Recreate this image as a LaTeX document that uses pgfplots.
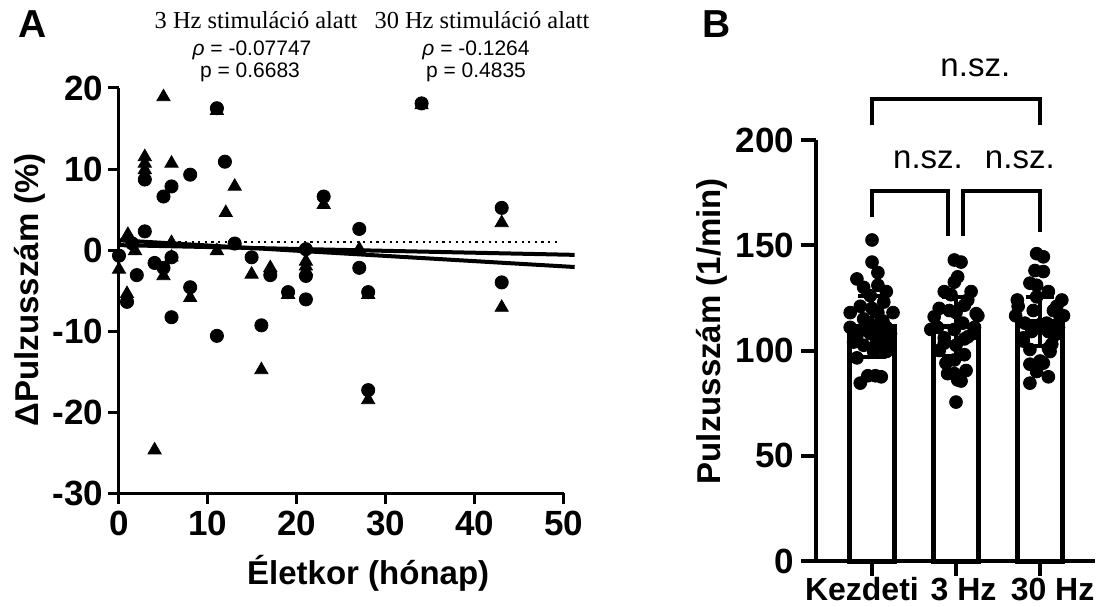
\documentclass[border=0pt]{standalone}
\usepackage{pgfplots}
\pgfplotsset{compat=1.18}
\usepackage{fontspec}
\setmainfont{Liberation Sans}
\newfontfamily\seriffont{Liberation Serif}

\begin{document}
\begin{tikzpicture}[x=1pt,y=1pt]
\path[use as bounding box] (0,0) rectangle (549,303);

% ---------------- Panel A ----------------
\begin{axis}[
  at={(59.5pt,56.5pt)}, anchor=south west,
  scale only axis, width=222.5pt, height=202.5pt,
  xmin=0, xmax=50, ymin=-30, ymax=20,
  clip=false,
  axis lines*=left,
  axis line style={line width=1.5pt, -},
  tick align=outside, tick pos=left,
  major tick length=5.5pt,
  tick style={line width=1.5pt, black},
  xtick={0,10,20,30,40,50}, xticklabels={0,10,20,30,40,50},
  ytick={-30,-20,-10,0,10,20}, yticklabels={-30,-20,-10,0,10,20},
  ticklabel style={font=\fontsize{17.5}{20}\selectfont\bfseries},
  yticklabel style={xshift=1pt},
  xlabel={Életkor (hónap)},
  ylabel={ΔPulzusszám (\%)},
  label style={font=\fontsize{16.5}{19}\selectfont\bfseries},
  xlabel style={at={(axis description cs:0.56,-0.198)}, anchor=center},
  ylabel style={at={(axis description cs:-0.2,0.502)}, anchor=center},
]
% reference line
\addplot[black, line width=1.1pt, dash pattern=on 1.1pt off 2.2pt] coordinates {(0,1) (49.5,1)};
% regression lines
\addplot[black, line width=2pt] coordinates {(0,1.2) (51.2,-2.1)};
\addplot[black, line width=2pt] coordinates {(0,0.6) (51.2,-0.6)};
% 30 Hz (triangles)
\addplot[only marks, mark=triangle*, mark size=3.8pt, black] coordinates {
(0,-2.4) (0.9,-5.4) (1.0,1.9) (1.8,-0.1) (2.9,11.5) (2.9,10.7) (2.9,9.9)
(4.0,-24.7) (5.0,18.9) (5.0,-3.2) (5.9,10.7) (5.9,0.9) (5.9,-0.9) (8.0,-5.9)
(11.0,17.2) (11.0,-0.1) (12.0,4.6) (13.0,7.85) (14.9,-3.0) (16.0,-14.8)
(17.0,-2.2) (19.0,-5.5) (21.0,-1.4) (21.0,-2.6) (21.0,-2.0) (23.0,5.6)
(27.0,0.1) (28.0,-5.5) (28.0,-18.5) (34.0,17.9) (43.0,3.35) (43.0,-7.1)
};
% 3 Hz (circles)
\addplot[only marks, mark=*, mark size=3.3pt, black] coordinates {
(0,-0.7) (0.9,-6.4) (1.5,0.8) (2.0,-3.1) (2.9,8.7) (2.9,2.3) (4.0,-1.6)
(5.0,6.6) (5.0,-2.2) (5.9,7.85) (5.9,-0.9) (5.9,-8.3) (8.0,9.3) (8.0,-4.6)
(11.0,17.5) (11.0,-10.6) (11.9,10.9) (13.0,0.8) (14.9,-0.9) (16.0,-9.3)
(17.0,-3.1) (19.0,-5.2) (21.0,0.1) (21.0,-3.2) (21.0,-6.1) (23.0,6.6)
(27.0,2.6) (27.0,-2.2) (28.0,-5.2) (28.0,-17.3) (34.0,18.1) (43.0,5.2) (43.0,-4.0)
};
\end{axis}

% ---------------- Panel B ----------------
\begin{axis}[
  at={(408pt,22.5pt)}, anchor=south west,
  scale only axis, width=139.5pt, height=210.5pt,
  xmin=-0.667, xmax=2.655, ymin=0, ymax=200,
  clip=false,
  axis lines*=left,
  axis line style={line width=2pt, -},
  tick align=outside, tick pos=left,
  major tick length=7.5pt,
  tick style={line width=2pt, black},
  xtick={0,1,2}, xticklabels={},
  ytick={0,50,100,150,200}, yticklabels={0,50,100,150,200},
  yticklabel style={font=\fontsize{17.5}{20}\selectfont\bfseries},
  ylabel={Pulzusszám (1/min)},
  ylabel style={at={(axis description cs:-0.373,0.546)}, anchor=center, font=\fontsize{16.5}{19}\selectfont\bfseries},
]
\addplot[ybar, bar width=22.5pt, fill=white, draw=black, line width=2.5pt] coordinates {(0,111.3) (1,111.3) (2,113.7)};
% Kezdeti points
\addplot[only marks, mark=*, mark size=3.2pt, black] coordinates {
(0.00,152.5) (0.00,142) (-0.18,134) (0.07,137) (-0.10,130) (0.17,128) (0.07,131)
(-0.02,126) (-0.26,118) (0.25,118) (0.00,120) (0.07,118) (-0.10,115) (0.13,114)
(-0.26,111) (0.17,111) (0.02,112) (-0.18,107) (-0.02,108) (0.07,106) (0.20,104)
(-0.22,104) (0.17,99.5) (-0.18,96.5) (0.02,99.5) (-0.10,102.5) (0.10,102)
(-0.05,88) (0.11,87.5) (-0.14,84.5) (0.04,88) (-0.08,110) (0.10,109) (0.22,108)
(-0.14,121) (0.14,123)
};
% 3 Hz points
\addplot[only marks, mark=*, mark size=3.2pt, black] coordinates {
(0.98,143) (1.06,142) (1.02,135) (0.98,132.5) (0.86,128) (1.18,128) (0.94,126.5)
(0.80,120) (0.92,119) (1.10,121.5) (1.26,116.5) (1.00,118) (1.14,124) (0.78,111)
(1.22,111) (0.98,110) (0.70,110) (1.08,113) (0.86,106) (1.14,106.5) (1.00,102.5)
(0.86,103.5) (1.10,105.5) (0.98,95.5) (0.88,94) (0.98,89) (1.12,90.5) (0.90,89)
(1.06,85.5) (1.02,86) (1.00,75.5) (1.24,117.5) (0.74,116) (1.20,108) (0.80,100) (1.10,98)
};
% 30 Hz points
\addplot[only marks, mark=*, mark size=3.2pt, black] coordinates {
(1.96,146) (2.04,144.5) (1.94,138) (2.04,137.5) (1.88,132) (1.96,131) (2.10,128)
(1.73,124) (2.26,124) (1.96,125.5) (1.71,116.5) (2.28,116.5) (1.92,119) (2.16,119)
(2.24,116) (1.80,106) (2.18,107.5) (1.96,111) (2.08,113) (1.82,113) (2.22,111)
(1.88,100.5) (2.12,99.5) (1.80,104.5) (2.10,101) (1.88,93.5) (2.04,94) (2.00,95)
(2.10,87.5) (1.88,84.5) (1.96,90) (2.10,109) (1.90,109) (2.14,103) (1.74,121) (2.20,121)
};
% error bars (mean +/- SD)
\addplot[only marks, mark=none, black,
  error bars/.cd, y dir=both, y explicit,
  error bar style={line width=2pt, black},
  error mark options={rotate=90, mark size=7pt, line width=2pt, black}]
  coordinates {(0,111.3) +- (0,14.5) (1,111.3) +- (0,14) (2,113.7) +- (0,11.5)};
% significance brackets
\draw[line width=2pt] (axis cs:0,207) -- (axis cs:0,219.5) -- (axis cs:2,219.5) -- (axis cs:2,207);
\draw[line width=2pt] (axis cs:0,163.4) -- (axis cs:0,175.8) -- (axis cs:0.905,175.8) -- (axis cs:0.905,154.4);
\draw[line width=2pt] (axis cs:1.083,154.4) -- (axis cs:1.083,175.8) -- (axis cs:2,175.8) -- (axis cs:2,156.3);
\node[font=\fontsize{16.5}{19}\selectfont] at (axis cs:1.23,234.2) {n.sz.};
\node[font=\fontsize{16.5}{19}\selectfont] at (axis cs:0.667,190.5) {n.sz.};
\node[font=\fontsize{16.5}{19}\selectfont] at (axis cs:1.76,190.5) {n.sz.};
% category labels
\node[font=\fontsize{16}{19}\selectfont\bfseries, anchor=base, inner sep=0pt, yshift=-19.5pt] at (axis cs:-0.12,0) {Kezdeti};
\node[font=\fontsize{16}{19}\selectfont\bfseries, anchor=base, inner sep=0pt, yshift=-19.5pt] at (axis cs:1.09,0) {3 Hz};
\node[font=\fontsize{16}{19}\selectfont\bfseries, anchor=base, inner sep=0pt, yshift=-19.5pt] at (axis cs:2.15,0) {30 Hz};
\end{axis}

% ---------------- annotations ----------------
\node[font=\fontsize{19.5}{22}\selectfont\bfseries] at (16.5,291) {A};
\node[font=\fontsize{19.5}{22}\selectfont\bfseries] at (358.5,291) {B};
\node[font=\fontsize{12.2}{14}\selectfont\seriffont] at (128,293) {3 Hz stimuláció alatt};
\node[font=\fontsize{12.2}{14}\selectfont\seriffont] at (241,293) {30 Hz stimuláció alatt};
\node[font=\fontsize{10.5}{12}\selectfont] at (126,278) {\textit{ρ} = -0.07747};
\node[font=\fontsize{10.5}{12}\selectfont] at (125,267) {p = 0.6683};
\node[font=\fontsize{10.5}{12}\selectfont] at (238,278) {\textit{ρ} = -0.1264};
\node[font=\fontsize{10.5}{12}\selectfont] at (238,267) {p = 0.4835};
\end{tikzpicture}
\end{document}
